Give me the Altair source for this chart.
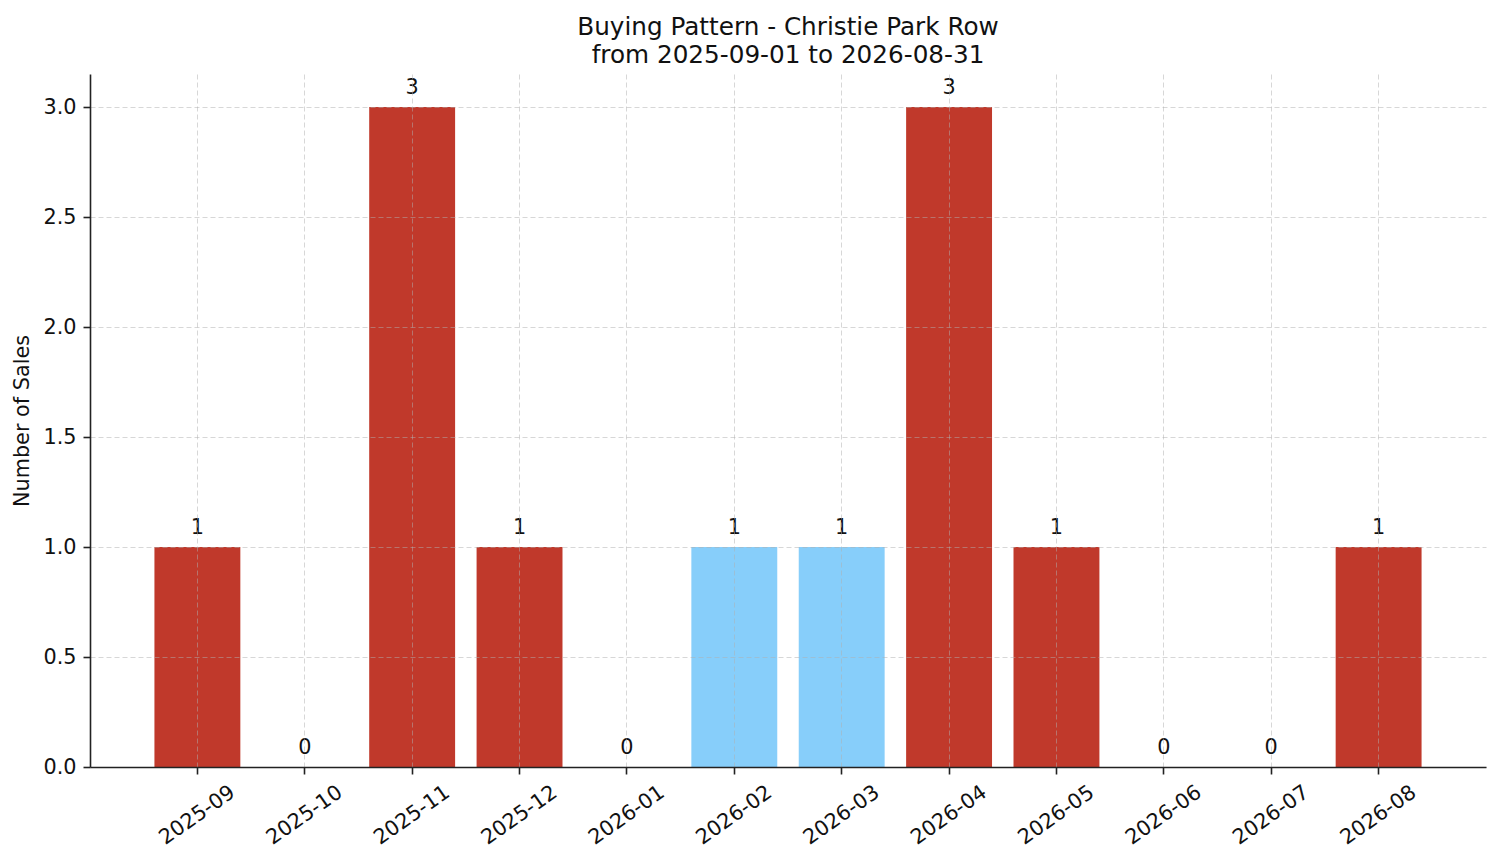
import pandas as pd
import altair as alt

# Monthly sales counts
months = ["2025-09", "2025-10", "2025-11", "2025-12", "2026-01", "2026-02",
          "2026-03", "2026-04", "2026-05", "2026-06", "2026-07", "2026-08"]
sales = [1, 0, 3, 1, 0, 1, 1, 3, 1, 0, 0, 1]
highlight_months = ["2026-02", "2026-03"]
y_ticks = [0.0, 0.5, 1.0, 1.5, 2.0, 2.5, 3.0]

df = pd.DataFrame({"month": months, "sales": sales})
df["kind"] = ["highlight" if m in highlight_months else "normal" for m in df["month"]]
df["label"] = df["sales"].astype(str)

FONT = "DejaVu Sans"

x_enc = alt.X(
    "month:N",
    sort=months,
    title=None,
    scale=alt.Scale(paddingInner=0.2, paddingOuter=0.6),
    axis=alt.Axis(
        labelAngle=-35, labelAlign="center", labelBaseline="middle",
        labelPadding=41, tickSize=7, tickWidth=1.6, domainWidth=1.6,
        domainColor="#222", tickColor="#222", labelColor="#111",
        labelFontSize=20.8, labelFont=FONT,
        grid=True, gridDash=[5, 3], gridColor="#b0b0b0", gridOpacity=0.5,
        gridWidth=1, zindex=1,
    ),
)

base = alt.Chart(df).encode(x=x_enc)

bars = base.mark_bar().encode(
    y=alt.Y(
        "sales:Q",
        title="Number of Sales",
        scale=alt.Scale(domain=[0, 3.15], nice=False),
        axis=alt.Axis(
            values=y_ticks, format=".1f",
            tickSize=7, tickWidth=1.6, domainWidth=1.6,
            domainColor="#222", tickColor="#222", labelColor="#111",
            labelPadding=7, labelFontSize=20.8, labelFont=FONT,
            titleFont=FONT, titleFontSize=20.8, titleFontWeight="normal",
            titleColor="#111", titlePadding=10,
            grid=True, gridDash=[5, 3], gridColor="#b0b0b0", gridOpacity=0.5,
            gridWidth=1, zindex=1,
        ),
    ),
    color=alt.Color(
        "kind:N",
        scale=alt.Scale(domain=["normal", "highlight"], range=["#c0392b", "#87cefa"]),
        legend=None,
    ),
)

labels = base.mark_text(
    dy=-13, baseline="alphabetic", fontSize=20.8, font=FONT, color="#111"
).encode(
    y="sales:Q",
    text="label:N",
)

chart = (
    (bars + labels)
    .properties(
        width=1396,
        height=693,
        autosize=alt.AutoSizeParams(type="none"),
        padding={"left": 82, "top": 66, "right": 7, "bottom": 90},
        title=alt.TitleParams(
            text=["Buying Pattern - Christie Park Row", "from 2025-09-01 to 2026-08-31"],
            anchor="middle", frame="group", font=FONT, fontSize=24.7,
            fontWeight="normal", color="#111", lineHeight=28, offset=6,
        ),
    )
    .configure_view(stroke=None)
)

chart.save("out.html", embed_options={"renderer": "svg", "actions": False})
